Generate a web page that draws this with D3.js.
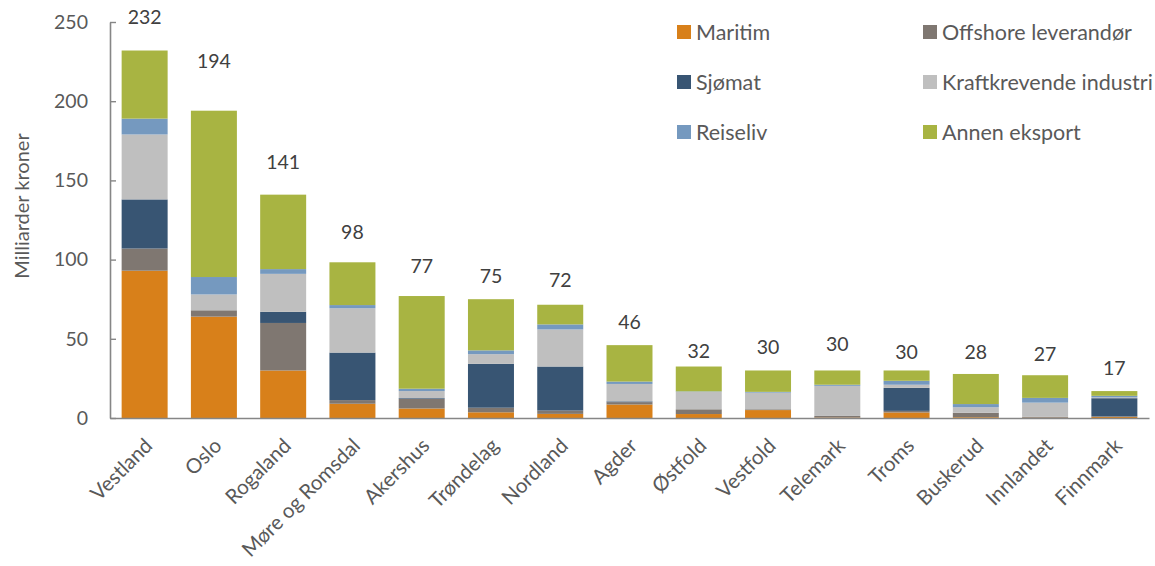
<!DOCTYPE html>
<html>
<head>
<meta charset="utf-8">
<script src="https://cdn.jsdelivr.net/npm/d3@7"></script>
<style>
  html, body { margin: 0; padding: 0; background: #fff; }
  svg text { font-family: Lato, "Noto Sans", sans-serif; }
</style>
</head>
<body>
<svg id="chart" width="1155" height="566"></svg>
<script>
// ---- data ----
const categories = ["Vestland", "Oslo", "Rogaland", "Møre og Romsdal", "Akershus", "Trøndelag", "Nordland", "Agder", "Østfold", "Vestfold", "Telemark", "Troms", "Buskerud", "Innlandet", "Finnmark"];
const seriesNames = ["Maritim", "Offshore leverandør", "Sjømat", "Kraftkrevende industri", "Reiseliv", "Annen eksport"];
const maritim   = [93, 64, 30, 9, 6, 3.6, 2.6, 8.5, 2.5, 5, 0.3, 3.5, 0.5, 0.2, 0.7];
const offshore  = [14, 4, 30, 2.3, 6, 2.9, 2.1, 1.5, 3, 0.5, 1, 1, 2.8, 0.5, 0.3];
const sjomat    = [31, 0, 7, 30, 0.5, 27.7, 27.8, 0.5, 0, 0, 0, 14.5, 0, 0, 11.5];
const kraft     = [41, 10, 24, 28, 4.5, 6.1, 23.4, 11, 11, 10.5, 19, 2, 3.5, 9, 0.5];
const reiseliv  = [10, 11, 3, 2, 1.5, 2.4, 3.2, 1.5, 0.3, 0.5, 0.7, 2.5, 2, 3, 1];
const annen     = [43, 105, 47, 27, 58.5, 32.3, 12.4, 23, 15.7, 13.5, 9, 6.5, 19, 14.3, 3];
const totalLabels = ["232", "194", "141", "98", "77", "75", "72", "46", "32", "30", "30", "30", "28", "27", "17"];
const yTicks = [0, 50, 100, 150, 200, 250];

// ---- styling / layout ----
const colors = ["#D8801A", "#7F7771", "#385573", "#BFBFBF", "#7599BF", "#A8B442"];
const labelLift = [33, 50, 32, 30, 30, 23, 25, 23, 15, 23, 26, 18, 22, 21, 23];
const margin = { left: 110, right: 6, top: 22, bottom: 148 };
const W = 1155, H = 566;

const seriesData = [maritim, offshore, sjomat, kraft, reiseliv, annen];
const rows = categories.map((c, i) => {
  const r = { cat: c };
  seriesNames.forEach((s, k) => r[s] = seriesData[k][i]);
  return r;
});
const stacked = d3.stack().keys(seriesNames)(rows);

const svg = d3.select("#chart");
const x = d3.scaleBand().domain(categories).range([margin.left, W - margin.right])
  .paddingInner(0.336).paddingOuter(0.168);
const y = d3.scaleLinear().domain([0, 250]).range([H - margin.bottom, margin.top]);

// bars
svg.append("g").selectAll("g").data(stacked).join("g")
  .attr("fill", (d, i) => colors[i])
  .selectAll("rect").data(d => d).join("rect")
  .attr("x", d => x(d.data.cat))
  .attr("width", x.bandwidth())
  .attr("y", d => y(d[1]))
  .attr("height", d => Math.max(0, y(d[0]) - y(d[1])));

// y axis
const yAxis = svg.append("g").attr("transform", `translate(${margin.left},0)`)
  .call(d3.axisLeft(y).tickValues(yTicks).tickSizeInner(-6).tickSizeOuter(0).tickPadding(22));
yAxis.select(".domain").attr("stroke", "#868686").attr("stroke-width", 1.6);
yAxis.selectAll(".tick line").attr("stroke", "#868686").attr("stroke-width", 1.4);
yAxis.selectAll(".tick text").attr("fill", "#595959").style("font-size", "19.5px");

// x axis
const xAxis = svg.append("g").attr("transform", `translate(0,${y(0)})`)
  .call(d3.axisBottom(x).tickSize(0).tickSizeOuter(0).tickFormat(""));
xAxis.select(".domain").attr("stroke", "#868686").attr("stroke-width", 1.6);
svg.append("g").selectAll("text").data(categories).join("text")
  .attr("transform", d => `translate(${x(d) + x.bandwidth() / 2 + 4},${y(0) + 24}) rotate(-45)`)
  .attr("text-anchor", "end")
  .attr("dy", "0.35em")
  .attr("fill", "#595959")
  .style("font-size", "20.5px")
  .text(d => d);

// total labels
const totals = rows.map(r => d3.sum(seriesNames, s => r[s]));
svg.append("g").selectAll("text").data(categories).join("text")
  .attr("x", d => x(d) + x.bandwidth() / 2)
  .attr("y", (d, i) => y(totals[i]) - labelLift[i])
  .attr("text-anchor", "middle")
  .attr("dy", "0.35em")
  .attr("fill", "#404040")
  .style("font-size", "19.5px")
  .text((d, i) => totalLabels[i]);

// y axis title
svg.append("text")
  .attr("transform", `translate(22,${(y(0) + y(250)) / 2 - 14}) rotate(-90)`)
  .attr("text-anchor", "middle")
  .attr("dy", "0.35em")
  .attr("fill", "#595959")
  .style("font-size", "20px")
  .text("Milliarder kroner");

// legend
const legendOrder = [0, 1, 2, 3, 4, 5];
const leg = svg.append("g").selectAll("g").data(legendOrder).join("g")
  .attr("transform", k => `translate(${k % 2 === 0 ? 677 : 923},${32 + Math.floor(k / 2) * 50})`);
leg.append("rect").attr("x", 0).attr("y", -7).attr("width", 14).attr("height", 14)
  .attr("fill", k => colors[k]);
leg.append("text").attr("x", 19).attr("dy", "0.35em")
  .attr("fill", "#595959").style("font-size", "21.5px")
  .text(k => seriesNames[k]);
</script>
</body>
</html>
